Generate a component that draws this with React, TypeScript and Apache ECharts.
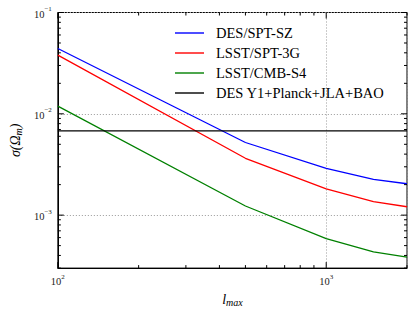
import React, { useEffect, useRef } from "react";
import * as echarts from "echarts";

const lmax = [100, 500, 1000, 1500, 2000];
const desSptSz = [0.0441, 0.00521, 0.0029, 0.00225, 0.00204];
const lsstSpt3g = [0.0379, 0.00364, 0.00182, 0.00136, 0.00121];
const lsstCmbS4 = [0.0119, 0.00123, 0.000585, 0.000433, 0.000385];
const desY1Range = [100, 2000];
const desY1Value = 0.0068;

const xMajorTicks = [100, 1000];
const xMinorTicks = [200, 300, 400, 500, 600, 700, 800, 900, 2000];
const yMajorTicks = [0.001, 0.01, 0.1];
const yMinorTicks = [
  0.0003, 0.0004, 0.0005, 0.0006, 0.0007, 0.0008, 0.0009,
  0.002, 0.003, 0.004, 0.005, 0.006, 0.007, 0.008, 0.009,
  0.02, 0.03, 0.04, 0.05, 0.06, 0.07, 0.08, 0.09,
];

const SERIF = "'Liberation Serif', 'DejaVu Serif', serif";

export default function App() {
  const ref = useRef<HTMLDivElement>(null);
  useEffect(() => {
    if (!ref.current) return;
    const chart = echarts.init(ref.current, null, { renderer: "svg" });

    const expLabel = (v: number) => {
      const e = Math.log10(v);
      const r = Math.round(e);
      if (Math.abs(e - r) > 1e-6) return "";
      const s = r < 0 ? "−" + Math.abs(r) : String(r);
      return "{b|10}{s|" + s + "}";
    };
    const rich = {
      b: { fontFamily: SERIF, fontSize: 10.5, color: "#222", lineHeight: 14, verticalAlign: "bottom" },
      s: { fontFamily: SERIF, fontSize: 7, color: "#222", lineHeight: 14, verticalAlign: "top" },
    };

    const tickSeries = (vals: number[], dir: "x" | "y", len: number) => ({
      type: "custom",
      silent: true,
      z: 10,
      data: vals.map((v) => (dir === "x" ? [v, 0.001] : [1000, v])),
      renderItem: (params: any, api: any) => {
        const cs = params.coordSys;
        const p = api.coord([api.value(0), api.value(1)]);
        const st = { stroke: "#000", lineWidth: 1 };
        if (dir === "x") {
          const x = p[0];
          return {
            type: "group",
            children: [
              { type: "line", shape: { x1: x, y1: cs.y + cs.height, x2: x, y2: cs.y + cs.height - len }, style: st },
              { type: "line", shape: { x1: x, y1: cs.y, x2: x, y2: cs.y + len }, style: st },
            ],
          };
        }
        const y = p[1];
        return {
          type: "group",
          children: [
            { type: "line", shape: { x1: cs.x, y1: y, x2: cs.x + len, y2: y }, style: st },
            { type: "line", shape: { x1: cs.x + cs.width, y1: y, x2: cs.x + cs.width - len, y2: y }, style: st },
          ],
        };
      },
    });

    const lineSeries = (name: string, color: string, ys: number[]) => ({
      name,
      type: "line",
      symbol: "none",
      data: lmax.map((l, i) => [l, ys[i]]),
      lineStyle: { color, width: 1.3 },
      itemStyle: { color },
      z: 5,
    });

    chart.setOption({
      animation: false,
      grid: {
        left: 51, right: 8, top: 12.5, bottom: 40,
        show: true, borderColor: "#000", borderWidth: 1,
      },
      legend: {
        orient: "vertical",
        left: 170,
        top: 18,
        icon: "rect",
        itemWidth: 29,
        itemHeight: 1.4,
        itemGap: 0,
        textStyle: { fontFamily: SERIF, fontSize: 14.5, color: "#000", lineHeight: 20, padding: [0, 0, 0, 7] },
        data: ["DES/SPT-SZ", "LSST/SPT-3G", "LSST/CMB-S4", "DES Y1+Planck+JLA+BAO"],
      },
      xAxis: {
        type: "log",
        logBase: 10,
        min: 100,
        max: 2000,
        name: "{i|l}{sub|max}",
        nameLocation: "middle",
        nameGap: 16,
        nameTextStyle: {
          rich: {
            i: { fontFamily: SERIF, fontStyle: "italic", fontSize: 14, color: "#000" },
            sub: { fontFamily: SERIF, fontStyle: "italic", fontSize: 10, color: "#000", padding: [6, 0, 0, 0] },
          },
        },
        axisLine: { lineStyle: { color: "#000", width: 1 } },
        axisTick: { show: false },
        axisLabel: { formatter: expLabel, rich, margin: 5, showMaxLabel: false },
        splitLine: { show: true, lineStyle: { color: "#999", type: [1, 2], width: 1 } },
        minorTick: { show: false },
      },
      yAxis: {
        type: "log",
        logBase: 10,
        min: 0.0003,
        max: 0.1,
        name: "{g|σ(Ω}{sub|m}{g|)}",
        nameLocation: "middle",
        nameRotate: 90,
        nameGap: 34,
        nameTextStyle: {
          rich: {
            g: { fontFamily: SERIF, fontStyle: "italic", fontSize: 14, color: "#000" },
            sub: { fontFamily: SERIF, fontStyle: "italic", fontSize: 10, color: "#000", padding: [6, 0, 0, 0] },
          },
        },
        axisLine: { lineStyle: { color: "#000", width: 1 } },
        axisTick: { show: false },
        axisLabel: { formatter: expLabel, rich, margin: 6, showMinLabel: false },
        splitLine: { show: true, lineStyle: { color: "#999", type: [1, 2], width: 1 } },
      },
      series: [
        lineSeries("DES/SPT-SZ", "#0000ff", desSptSz),
        lineSeries("LSST/SPT-3G", "#ff0000", lsstSpt3g),
        lineSeries("LSST/CMB-S4", "#008000", lsstCmbS4),
        {
          name: "DES Y1+Planck+JLA+BAO",
          type: "line",
          symbol: "none",
          data: desY1Range.map((l) => [l, desY1Value]),
          lineStyle: { color: "#000", width: 1.3 },
          itemStyle: { color: "#000" },
          z: 6,
        },
        tickSeries(xMajorTicks, "x", 6),
        tickSeries(xMinorTicks, "x", 3),
        tickSeries(yMajorTicks, "y", 6),
        tickSeries(yMinorTicks, "y", 3),
      ],
    });
    return () => chart.dispose();
  }, []);
  return <div ref={ref} style={{ width: 415, height: 312, position: "absolute", left: 0, top: 0, background: "#fff" }} />;
}
